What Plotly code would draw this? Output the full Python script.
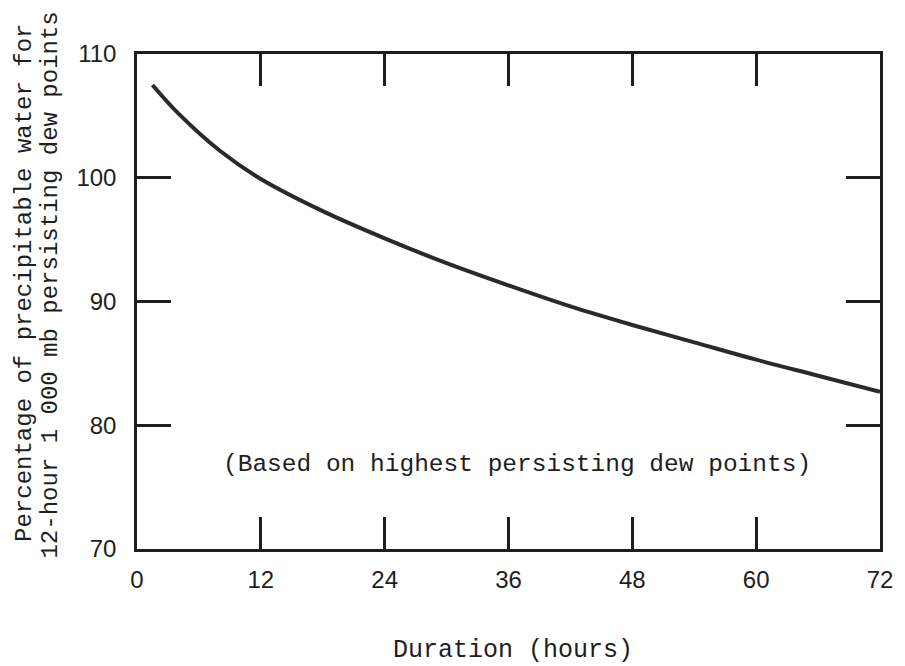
import plotly.graph_objects as go

# Data
duration_h = [1.5, 4, 8, 12, 18, 24, 30, 36, 42, 48, 54, 60, 66, 72]
percent_pw = [107.5, 105.2, 102.2, 99.9, 97.3, 95.1, 93.1, 91.3, 89.6, 88.1, 86.7, 85.3, 84.0, 82.7]

x_ticks = [0, 12, 24, 36, 48, 60, 72]
y_ticks = [70, 80, 90, 100, 110]

x_title = "Duration (hours)"
y_title_1 = "Percentage of precipitable water for"
y_title_2 = "12-hour 1 000 mb persisting dew points"
note = "(Based on highest persisting dew points)"

MONO = "Liberation Mono, Courier New, monospace"
SANS = "Liberation Sans, Arial, sans-serif"
INK = "#1e1e1e"

fig = go.Figure()
fig.add_trace(go.Scatter(
    x=duration_h, y=percent_pw, mode="lines",
    line=dict(color="#2a2a2a", width=4, shape="spline", smoothing=1.0),
    showlegend=False, hoverinfo="skip",
))

W, H = 905, 666
L, R, T, B = 137, 12, 54, 117

fig.update_layout(
    width=W, height=H,
    margin=dict(l=L, r=R, t=T, b=B),
    paper_bgcolor="white", plot_bgcolor="white",
    xaxis=dict(
        range=[0, 72], tickvals=x_ticks, ticktext=[str(v) for v in x_ticks],
        ticks="inside", ticklen=32, tickwidth=2.5, tickcolor=INK,
        showline=True, linecolor=INK, linewidth=2.5, mirror="ticks",
        showgrid=False, zeroline=False,
        tickfont=dict(family=SANS, size=24, color=INK),
        ticklabelstandoff=7,
    ),
    yaxis=dict(
        range=[70, 110], tickvals=y_ticks, ticktext=[str(v) for v in y_ticks],
        ticks="inside", ticklen=34, tickwidth=2.5, tickcolor=INK,
        showline=True, linecolor=INK, linewidth=2.5, mirror="ticks",
        showgrid=False, zeroline=False,
        tickfont=dict(family=SANS, size=24, color=INK),
        ticklabelstandoff=13,
    ),
)

pw = W - L - R
ph = H - T - B

def px_to_paper_x(px):
    return (px - L) / pw

def px_to_paper_y(py):
    return (H - B - py) / ph

fig.add_annotation(
    text=y_title_1, xref="paper", yref="paper",
    x=px_to_paper_x(22), y=px_to_paper_y(283), textangle=-90,
    showarrow=False, xanchor="center", yanchor="middle",
    font=dict(family=MONO, size=24, color=INK),
)
fig.add_annotation(
    text=y_title_2, xref="paper", yref="paper",
    x=px_to_paper_x(48), y=px_to_paper_y(285), textangle=-90,
    showarrow=False, xanchor="center", yanchor="middle",
    font=dict(family=MONO, size=24, color=INK),
)
fig.add_annotation(
    text=x_title, xref="paper", yref="paper",
    x=px_to_paper_x(520), y=px_to_paper_y(650),
    showarrow=False, xanchor="center", yanchor="middle",
    font=dict(family=MONO, size=25, color=INK),
)
fig.add_annotation(
    text=note, xref="x", yref="y",
    x=36.8, y=76.8,
    showarrow=False, xanchor="center", yanchor="middle",
    font=dict(family=MONO, size=24.5, color=INK),
)

fig.write_html("out.html")
